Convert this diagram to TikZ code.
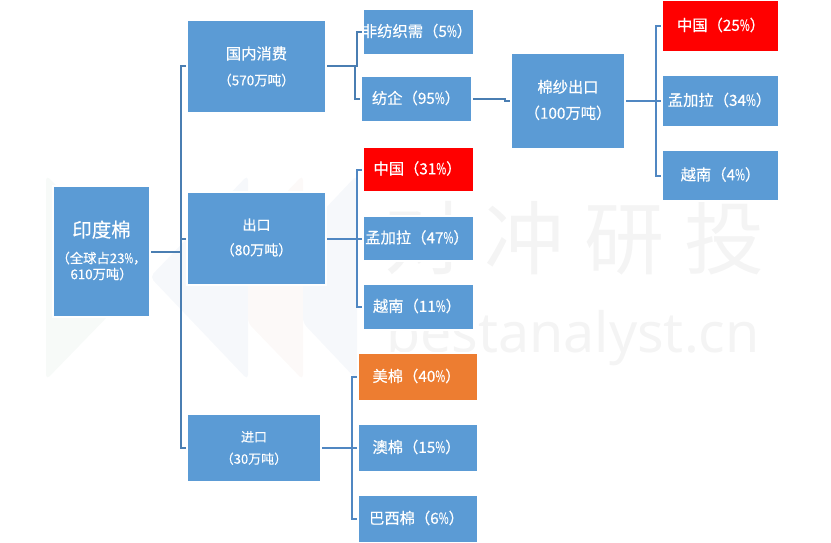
\documentclass[tikz,border=0pt]{standalone}
\usepackage{fontspec}
\setmainfont[FakeBold=0.35]{Noto Sans CJK SC}
\newfontfamily\wmcjk{Noto Sans CJK SC}
\newfontfamily\wmlatin{Noto Sans}
\definecolor{boxblue}{HTML}{5B9BD5}
\definecolor{boxorange}{HTML}{ED7D31}
\definecolor{linedark}{HTML}{4A7EB2}
\definecolor{linelight}{HTML}{5087C2}
\definecolor{wmgreen}{HTML}{F7FAF8}
\definecolor{wmblue}{HTML}{F6F8FB}
\definecolor{wmpink}{HTML}{FCF9F8}
\definecolor{wmgrey}{HTML}{F4F4F4}
\newcommand{\pc}{\scalebox{.7}[1]{\%}}
\newcommand{\up}[1]{\raisebox{1pt}[\height][\depth]{#1}}
\newcommand{\lft}[2]{\makebox[0pt][c]{\kern#1pt \up{#2}}}
\tikzset{
  boxnode/.style={fill=boxblue,draw=white,line width=2pt,outer sep=0pt,inner sep=0pt,
    text=white,align=center,font=\fontsize{14}{25}\selectfont},
  leafnode/.style={boxnode,font=\fontsize{15.3}{20}\selectfont},
  conn/.style={line width=2pt,shorten <=1pt,shorten >=1pt},
  wmshape/.style={rounded corners=5pt},
}
\begin{document}
\begin{tikzpicture}[x=1pt,y=-1pt]
\useasboundingbox (0,0) rectangle (831,543);
% watermark
\fill[wmgreen,wmshape] (46,175) -- (146,277) -- (46,380) -- cycle;
\fill[wmblue,wmshape] (248,175) -- (150,277) -- (248,380) -- cycle;
\fill[wmpink,wmshape] (303,175) -- (248,232) -- (248,323) -- (303,380) -- cycle;
\fill[wmblue,wmshape] (357,175) -- (303,232) -- (303,323) -- (357,380) -- cycle;
\node[text=wmgrey,font=\wmcjk\fontsize{80}{80}\selectfont,inner sep=0pt] (wmcn) at (574,238) {对\hspace{20pt}冲\hspace{20pt}研\hspace{20pt}投};
\node[text=wmgrey,font=\wmlatin\fontsize{55.5}{55}\selectfont,inner sep=0pt,anchor=base] (wmen) at (573,352) {bestanalyst.cn};
% boxes
\node[boxnode,minimum width=97,minimum height=131,font=\fontsize{13.3}{16}\selectfont] (root) at (101.5,251.5)
  {\raisebox{2pt}[\height][\depth]{\fontsize{19.5}{29}\selectfont 印度棉}\\[8pt]（全球占23\pc，\\610万吨）};
\node[boxnode,minimum width=139,minimum height=93,font=\fontsize{15.3}{26}\selectfont] (dom) at (256.5,66.5)
  {国内消费\\{\fontsize{13.5}{26}\selectfont （570万吨）}};
\node[boxnode,minimum width=139,minimum height=93] (exp) at (256.5,238.5) {\up{出口}\\\up{（80万吨）}};
\node[boxnode,minimum width=134,minimum height=68,font=\fontsize{13}{22}\selectfont] (imp) at (254,448) {进口\\（30万吨）};
\node[leafnode,minimum width=111,minimum height=46] (nw) at (418.5,32) {\lft{-3}{非纺织需（5\pc）}};
\node[leafnode,minimum width=111,minimum height=46] (mill) at (416.5,99) {\lft{-1}{纺企（95\pc）}};
\node[leafnode,minimum width=111,minimum height=45,fill=red] (cna) at (418.5,169.5) {\lft{-2}{中国（31\pc）}};
\node[leafnode,minimum width=111,minimum height=45] (bda) at (418.5,238.5) {\lft{-3}{孟加拉（47\pc）}};
\node[leafnode,minimum width=111,minimum height=46] (vna) at (418.5,307) {\lft{-3}{越南（11\pc）}};
\node[leafnode,minimum width=120,minimum height=48,fill=boxorange] (us) at (418,377) {\lft{-3}{美棉（40\pc）}};
\node[leafnode,minimum width=120,minimum height=48] (au) at (418,448) {\lft{-3}{澳棉（15\pc）}};
\node[leafnode,minimum width=120,minimum height=48] (br) at (418,519) {\lft{-3}{巴西棉（6\pc）}};
\node[boxnode,minimum width=114,minimum height=96,font=\fontsize{15.3}{26}\selectfont] (yarn) at (568,101) {\up{棉纱出口}\\\up{（100万吨）}};
\node[leafnode,minimum width=117,minimum height=52,fill=red] (cnb) at (720.5,26) {\lft{1}{中国（25\pc）}};
\node[leafnode,minimum width=117,minimum height=52] (bdb) at (720.5,101) {\lft{-2}{孟加拉（34\pc）}};
\node[leafnode,minimum width=117,minimum height=51] (vnb) at (720.5,175.5) {\lft{0}{越南（4\pc）}};
% connectors
\draw[conn,linedark] (root.east) -- ++(31,0) |- (dom.west);
\draw[conn,linedark] (root.east) -- ++(31,0) |- (exp.west);
\draw[conn,linedark] (root.east) -- ++(31,0) |- (imp.west);
\draw[conn,linedark] (dom.east) -- ++(31,0) |- (nw.west);
\draw[conn,linedark] (dom.east) -- ++(29,0) |- (mill.west);
\draw[conn,linedark] (mill.east) -- ++(33,0) |- (yarn.west);
\draw[conn,linelight] (yarn.east) -- ++(31,0) |- (cnb.west);
\draw[conn,linelight] (yarn.east) -- ++(31,0) |- (bdb.west);
\draw[conn,linelight] (yarn.east) -- ++(31,0) |- (vnb.west);
\draw[conn,linelight] (exp.east) -- ++(31,0) |- (cna.west);
\draw[conn,linelight] (exp.east) -- ++(31,0) |- (bda.west);
\draw[conn,linelight] (exp.east) -- ++(31,0) |- (vna.west);
\draw[conn,linelight] (imp.east) -- ++(31,0) |- (us.west);
\draw[conn,linelight] (imp.east) -- ++(31,0) |- (au.west);
\draw[conn,linelight] (imp.east) -- ++(31,0) |- (br.west);
\end{tikzpicture}
\end{document}
